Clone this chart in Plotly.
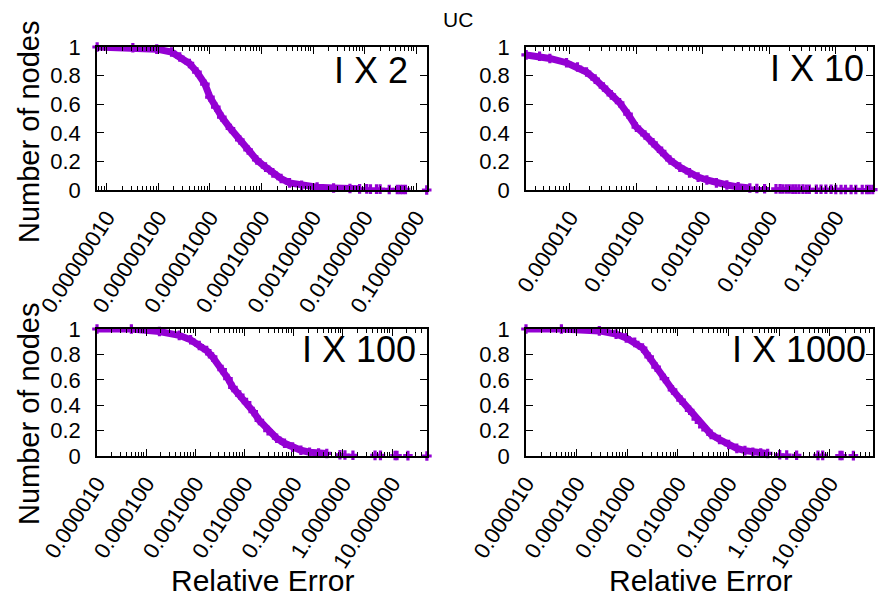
import plotly.graph_objects as go

# ---- data (relative error, fraction of nodes) ----
# I X 2
x_2 = [6.5e-8, 3.2e-7, 9.3e-7, 1.8e-6, 2.6e-6, 4.0e-6, 5.6e-6, 8.0e-6, 1.0e-5, 1.3e-5,
       1.7e-5, 2.5e-5, 3.8e-5, 5.5e-5, 8.1e-5, 1.2e-4, 1.66e-4, 2.4e-4, 3.5e-4, 6.0e-4,
       1.2e-3, 2.5e-3, 5.2e-3, 8.0e-3]
y_2 = [1.0, 0.995, 0.985, 0.965, 0.93, 0.885, 0.825, 0.74, 0.65, 0.58,
       0.51, 0.43, 0.35, 0.28, 0.21, 0.16, 0.12, 0.08, 0.05, 0.032,
       0.02, 0.014, 0.01, 0.008]
x_2_tail = [1.1e-2, 1.3e-2, 1.7e-2, 2.0e-2, 3.0e-2, 4.3e-2, 4.9e-2, 5.5e-2, 6.2e-2, 0.16]
y_2_tail = [0.008, 0.006, 0.006, 0.006, 0.004, 0.004, 0.004, 0.004, 0.004, 0.0]

# I X 10
x_10 = [2.2e-6, 3.5e-6, 5.0e-6, 8.9e-6, 1.3e-5, 1.78e-5, 2.4e-5, 3.2e-5, 4.2e-5, 5.6e-5,
        7.5e-5, 1.0e-4, 1.35e-4, 1.78e-4, 2.4e-4, 3.2e-4, 4.5e-4, 6.3e-4, 8.5e-4, 1.15e-3,
        1.6e-3, 2.3e-3, 3.4e-3, 5.1e-3]
y_10 = [0.945, 0.935, 0.92, 0.89, 0.86, 0.825, 0.775, 0.72, 0.665, 0.61,
        0.53, 0.44, 0.385, 0.33, 0.27, 0.21, 0.16, 0.12, 0.09, 0.07,
        0.05, 0.035, 0.022, 0.014]
x_10_tail = [6.5e-3, 8.5e-3, 1.26e-2, 1.45e-2, 1.6e-2, 1.8e-2, 2.0e-2, 2.25e-2, 2.5e-2, 2.8e-2,
             3.2e-2, 3.6e-2, 4.0e-2, 5.1e-2, 6.0e-2, 7.1e-2, 8.5e-2, 0.1, 0.12, 0.14,
             0.17, 0.2, 0.25, 0.29, 0.32, 0.36]
y_10_tail = [0.01, 0.009, 0.008, 0.008, 0.007, 0.007, 0.007, 0.006, 0.006, 0.006,
             0.006, 0.005, 0.005, 0.005, 0.005, 0.005, 0.005, 0.004, 0.004, 0.004,
             0.004, 0.004, 0.003, 0.003, 0.003, 0.003]

# I X 100
x_100 = [1.0e-5, 5.0e-5, 1.86e-4, 4.7e-4, 8.0e-4, 1.2e-3, 1.7e-3, 2.24e-3, 3.5e-3, 4.6e-3,
         5.8e-3, 8.0e-3, 1.1e-2, 1.5e-2, 2.0e-2, 3.0e-2, 4.5e-2, 6.5e-2, 9.5e-2, 0.14,
         0.21, 0.32, 0.47]
y_100 = [1.0, 1.0, 0.98, 0.95, 0.915, 0.87, 0.83, 0.78, 0.68, 0.61,
         0.54, 0.48, 0.42, 0.35, 0.28, 0.2, 0.14, 0.1, 0.07, 0.045,
         0.03, 0.024, 0.02]
x_100_tail = [0.87, 1.1, 1.6, 4.5, 5.8, 11.5, 12.6, 21.0, 51.0]
y_100_tail = [0.01, 0.008, 0.006, 0.005, 0.005, 0.004, 0.004, 0.003, 0.0]

# I X 1000
x_1000 = [1.0e-5, 5.0e-5, 2.8e-4, 6.0e-4, 9.5e-4, 1.4e-3, 2.0e-3, 2.7e-3, 3.7e-3, 5.4e-3,
          7.8e-3, 1.15e-2, 1.7e-2, 2.3e-2, 3.1e-2, 4.5e-2, 6.6e-2, 0.1, 0.145, 0.21,
          0.3, 0.43, 0.59]
y_1000 = [1.0, 1.0, 0.985, 0.96, 0.93, 0.895, 0.85, 0.78, 0.7, 0.61,
          0.52, 0.44, 0.36, 0.29, 0.23, 0.17, 0.13, 0.09, 0.06, 0.042,
          0.03, 0.024, 0.02]
x_1000_tail = [1.02, 1.4, 2.2, 5.8, 7.2, 15.8, 17.4, 29.0, 71.0]
y_1000_tail = [0.01, 0.008, 0.006, 0.005, 0.005, 0.004, 0.004, 0.003, 0.0]

panel_labels = ["I X 2", "I X 10", "I X 100", "I X 1000"]

# tick labels per panel
ticks_2 = [1e-7, 1e-6, 1e-5, 1e-4, 1e-3, 1e-2, 1e-1]
ticktext_2 = ["0.00000010", "0.00000100", "0.00001000", "0.00010000",
              "0.00100000", "0.01000000", "0.10000000"]
ticks_10 = [1e-5, 1e-4, 1e-3, 1e-2, 1e-1]
ticktext_10 = ["0.000010", "0.000100", "0.001000", "0.010000", "0.100000"]
ticks_big = [1e-5, 1e-4, 1e-3, 1e-2, 1e-1, 1, 10]
ticktext_big = ["0.000010", "0.000100", "0.001000", "0.010000",
                "0.100000", "1.000000", "10.000000"]

PURPLE = "#9400D3"
FONT = "Liberation Sans, Arial, sans-serif"
W, H = 881, 596


def px_x(p):
    return p / W


def px_y(p):
    return 1 - p / H


def minor_vals(lo, hi):
    vals = []
    for k in range(lo, hi + 1):
        for m in range(2, 10):
            vals.append(m * 10.0 ** k)
    return vals


fig = go.Figure()

panels = [
    (x_2, y_2, x_2_tail, y_2_tail, "x", "y"),
    (x_10, y_10, x_10_tail, y_10_tail, "x2", "y2"),
    (x_100, y_100, x_100_tail, y_100_tail, "x3", "y3"),
    (x_1000, y_1000, x_1000_tail, y_1000_tail, "x4", "y4"),
]

for xs, ys, xt, yt, xa, ya in panels:
    # dense point cloud -> thick line with cross markers
    fig.add_trace(go.Scatter(
        x=xs, y=ys, xaxis=xa, yaxis=ya, mode="lines+markers",
        line=dict(color=PURPLE, width=7),
        marker=dict(symbol="cross", size=8, color=PURPLE),
        cliponaxis=False, showlegend=False, hoverinfo="skip"
    ))
    # sparse points near zero
    fig.add_trace(go.Scatter(
        x=xt, y=yt, xaxis=xa, yaxis=ya, mode="markers",
        marker=dict(symbol="cross", size=8, color=PURPLE),
        cliponaxis=False, showlegend=False, hoverinfo="skip"
    ))

# axis domains in pixels
left_x = [97, 427]
right_x = [526, 873]
top_y = [47, 190]
bot_y = [329, 456]


def xaxis_style(dom, rng, vals, text, minors, anchor):
    return dict(
        type="log", domain=[px_x(dom[0]), px_x(dom[1])], range=rng, anchor=anchor,
        automargin=False,
        tickmode="array", tickvals=vals, ticktext=text, tickangle=-57,
        ticks="inside", ticklen=7, tickwidth=1, tickcolor="black",
        minor=dict(ticks="inside", ticklen=4, tickcolor="black", tickvals=minors),
        showline=True, linecolor="black", linewidth=1.5, mirror="allticks",
        showgrid=False, zeroline=False, ticklabelstandoff=4,
        tickfont=dict(family=FONT, size=22, color="black")
    )


def yaxis_style(dom, anchor):
    return dict(
        domain=[px_y(dom[1]), px_y(dom[0])], range=[0, 1], anchor=anchor,
        automargin=False,
        tickmode="array", tickvals=[0, 0.2, 0.4, 0.6, 0.8, 1],
        ticktext=["0", "0.2", "0.4", "0.6", "0.8", "1"],
        ticks="inside", ticklen=7, tickcolor="black", ticklabelstandoff=10,
        showline=True, linecolor="black", linewidth=1.5, mirror="allticks",
        showgrid=False, zeroline=False,
        tickfont=dict(family=FONT, size=22, color="black")
    )


fig.update_layout(
    template="none",
    width=W, height=H,
    margin=dict(l=0, r=0, t=0, b=0, autoexpand=False),
    plot_bgcolor="white", paper_bgcolor="white",
    xaxis=xaxis_style(left_x, [-7.19, -0.79], ticks_2, ticktext_2, minor_vals(-8, -1), "y"),
    xaxis2=xaxis_style(right_x, [-5.66, -0.44], ticks_10, ticktext_10, minor_vals(-6, -1), "y2"),
    xaxis3=xaxis_style(left_x, [-5.0, 1.71], ticks_big, ticktext_big, minor_vals(-5, 1), "y3"),
    xaxis4=xaxis_style(right_x, [-5.0, 1.85], ticks_big, ticktext_big, minor_vals(-5, 1), "y4"),
    yaxis=yaxis_style(top_y, "x"),
    yaxis2=yaxis_style(top_y, "x2"),
    yaxis3=yaxis_style(bot_y, "x3"),
    yaxis4=yaxis_style(bot_y, "x4"),
)

# title
fig.add_annotation(x=px_x(458), y=px_y(20), xref="paper", yref="paper", text="UC",
                   showarrow=False, xanchor="center", yanchor="middle",
                   font=dict(family=FONT, size=21, color="black"))

# panel labels (right aligned, upper right of each plot)
label_pos = [(410, 70), (866, 69), (418, 349), (868, 349)]
for (lx, ly), txt in zip(label_pos, panel_labels):
    fig.add_annotation(x=px_x(lx), y=px_y(ly), xref="paper", yref="paper", text=txt,
                       showarrow=False, xanchor="right", yanchor="middle",
                       font=dict(family=FONT, size=36, color="black"))

# y axis titles
for cy in (132, 414):
    fig.add_annotation(x=px_x(29), y=px_y(cy), xref="paper", yref="paper",
                       text="Number of nodes", textangle=-90, showarrow=False,
                       xanchor="center", yanchor="middle",
                       font=dict(family=FONT, size=29, color="black"))

# x axis titles
for cx in (262, 700):
    fig.add_annotation(x=px_x(cx), y=px_y(580), xref="paper", yref="paper",
                       text="Relative Error", showarrow=False,
                       xanchor="center", yanchor="middle",
                       font=dict(family=FONT, size=30, color="black"))

# the page body has a default 8px margin; drop it so the figure sits at 0,0
fig.write_html("out.html", config={"displayModeBar": False},
               post_script="document.body.style.margin = '0';")
